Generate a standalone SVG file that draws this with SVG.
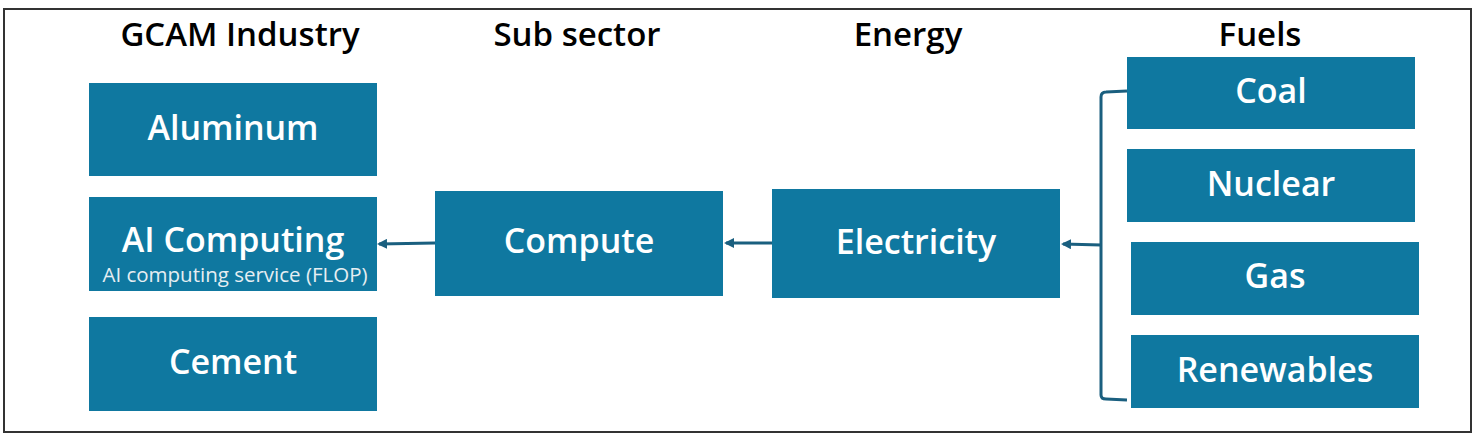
<svg xmlns="http://www.w3.org/2000/svg" width="1478" height="436" viewBox="0 0 1478 436">
<style>
.b{fill:#0f78a0}
.t{font-family:"Open Sans","Liberation Sans",sans-serif;font-weight:600;fill:#fff;font-size:34px;text-anchor:middle}
.h{font-family:"Open Sans","Liberation Sans",sans-serif;font-weight:600;fill:#000;font-size:33px;text-anchor:middle}
.s{font-family:"Open Sans","Liberation Sans",sans-serif;fill:#e6eef2;font-size:20.5px;text-anchor:middle}
.c{fill:none;stroke:#1a5f7f;stroke-width:3}
</style>
<defs><marker id="a" markerWidth="10" markerHeight="10" refX="8" refY="5" orient="auto" markerUnits="userSpaceOnUse"><path d="M0,0 L10,5 L0,10 Z" fill="#1a5f7f"/></marker></defs>
<rect x="4" y="9" width="1467" height="423" fill="#fff" stroke="#333" stroke-width="2"/>
<text class="h" x="240" y="46">GCAM Industry</text>
<text class="h" x="577" y="46">Sub sector</text>
<text class="h" x="908" y="46">Energy</text>
<text class="h" x="1260" y="46">Fuels</text>
<g id="aluminum"><rect class="b" x="89" y="83" width="288" height="93"/><text class="t" x="233" y="140">Aluminum</text></g>
<g id="ai"><rect class="b" x="89" y="197" width="288" height="94"/><text class="t" x="233" y="252">AI Computing</text><text class="s" x="235" y="282">AI computing service (FLOP)</text></g>
<g id="cement"><rect class="b" x="89" y="317" width="288" height="94"/><text class="t" x="233" y="374">Cement</text></g>
<g id="compute"><rect class="b" x="435" y="191" width="288" height="105"/><text class="t" x="579" y="253">Compute</text></g>
<g id="electricity"><rect class="b" x="772" y="189" width="288" height="109"/><text class="t" x="916" y="254">Electricity</text></g>
<g id="coal"><rect class="b" x="1127" y="57" width="288" height="72"/><text class="t" x="1271" y="103">Coal</text></g>
<g id="nuclear"><rect class="b" x="1127" y="149" width="288" height="73"/><text class="t" x="1271" y="196">Nuclear</text></g>
<g id="gas"><rect class="b" x="1131" y="242" width="288" height="73"/><text class="t" x="1275" y="288">Gas</text></g>
<g id="renewables"><rect class="b" x="1131" y="335" width="288" height="73"/><text class="t" x="1275" y="382">Renewables</text></g>
<g id="connectors">
<path class="c" d="M1127,91 L1106,92 Q1101,92 1101,97 L1101,395 Q1101,399 1106,399 L1127,400"/>
<line class="c" x1="1101" y1="245" x2="1063" y2="244" marker-end="url(#a)"/>
<line class="c" x1="772" y1="243" x2="726" y2="243" marker-end="url(#a)"/>
<line class="c" x1="435" y1="243" x2="379" y2="244" marker-end="url(#a)"/>
</g>
</svg>
